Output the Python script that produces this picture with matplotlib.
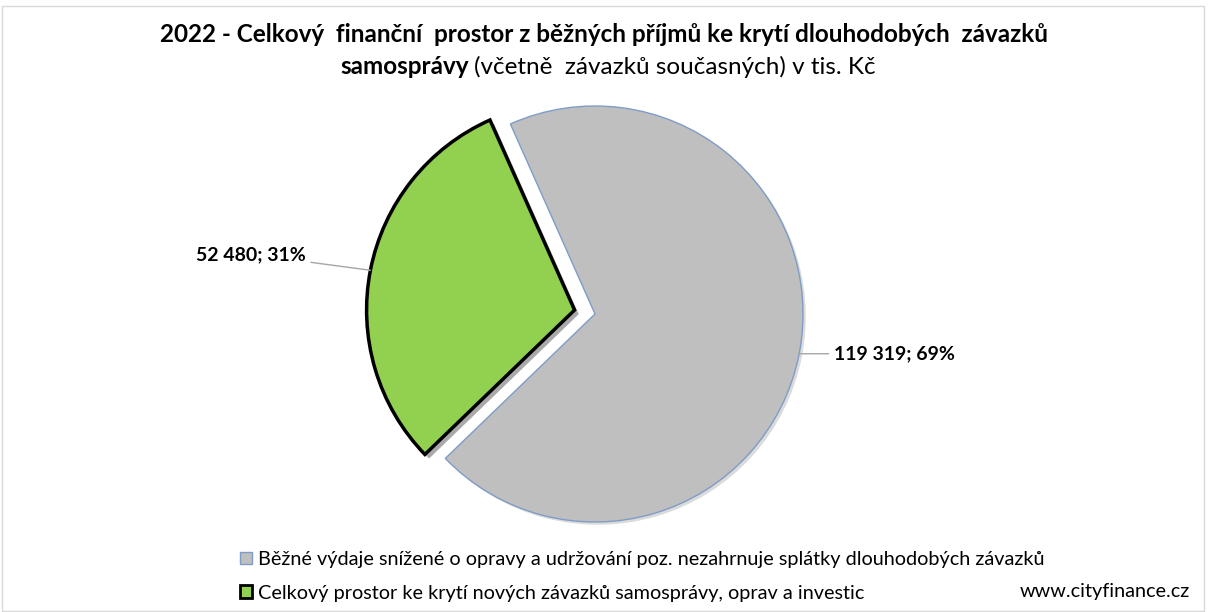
import numpy as np
import matplotlib.pyplot as plt
from matplotlib.patches import Patch, Rectangle
from matplotlib import patheffects as pe

plt.rcParams['font.family'] = ['Lato', 'DejaVu Sans']

# data (tis. Kč)
categories = ['Běžné výdaje snížené o opravy a udržování poz. nezahrnuje splátky dlouhodobých závazků',
              'Celkový prostor ke krytí nových závazků samosprávy, oprav a investic']
values = [119319, 52480]
value_labels = ['119 319', '52 480']
colors = ['#BFBFBF', '#92D050']
edges = ['#7F9CC8', '#000000']

W, H = 1208, 612
fig = plt.figure(figsize=(W / 100, H / 100), dpi=100)
fig.patches.append(Rectangle((0.002, 0.002), 0.995, 0.988, transform=fig.transFigure,
                             fill=False, edgecolor='#D9D9D9', lw=1))

cx, cy, r = 595, 314, 208
ax = fig.add_axes([(cx - r) / W, (H - cy - r) / H, 2 * r / W, 2 * r / H])
wedges, _ = ax.pie(values, colors=colors, startangle=114, counterclock=False,
                   explode=[0, 0.1], radius=1)
for w, ec, lw in zip(wedges, edges, [1.0, 2.5]):
    w.set_edgecolor(ec)
    w.set_linewidth(lw)
    w.set_clip_on(False)
wedges[1].set_path_effects([pe.SimplePatchShadow(offset=(3, -3), shadow_rgbFace='#555555', alpha=0.5),
                            pe.Normal()])
wedges[0].set_path_effects([pe.SimplePatchShadow(offset=(2, -2), shadow_rgbFace='#888888', alpha=0.3),
                            pe.Normal()])
ax.set_xlim(-1, 1)
ax.set_ylim(-1, 1)
ax.set_aspect('auto')
ax.axis('off')

total = sum(values)
offsets = [(35, 0), (-65, 16)]
has = ['left', 'right']
for w, v, lab, off, ha in zip(wedges, values, value_labels, offsets, has):
    ang = np.deg2rad((w.theta1 + w.theta2) / 2)
    c = w.center
    x, y = c[0] + np.cos(ang), c[1] + np.sin(ang)
    ax.annotate(f'{lab}; {round(100 * v / total)}%', xy=(x, y), xytext=off,
                textcoords='offset pixels', ha=ha, va='center', fontsize=14,
                fontweight='bold', annotation_clip=False,
                arrowprops=dict(arrowstyle='-', color='#A6A6A6', lw=1, shrinkA=2, shrinkB=0))

fig.text(0.5, 1 - 34 / H, '2022 - Celkový  finanční  prostor z běžných příjmů ke krytí dlouhodobých  závazků',
         ha='center', va='center', fontsize=17.5, fontweight='bold')
fig.text(469 / W, 1 - 67 / H, 'samosprávy', ha='right', va='center', fontsize=17.5, fontweight='bold')
fig.text(474 / W, 1 - 67 / H, '(včetně  závazků současných) v tis. Kč', ha='left', va='center', fontsize=17.5)

handles = [Patch(facecolor=c, edgecolor=e, lw=lw) for c, e, lw in zip(colors, edges, [1, 2])]
fig.legend(handles, categories, loc='upper left', bbox_to_anchor=(222 / W, 1 - 533 / H),
           frameon=False, fontsize=14.3, handlelength=0.6, handleheight=0.6,
           handletextpad=0.3, labelspacing=0.85)
fig.text(1190 / W, 1 - 591 / H, 'www.cityfinance.cz', ha='right', va='center', fontsize=14.3)

fig.savefig('out.png', dpi=100)
